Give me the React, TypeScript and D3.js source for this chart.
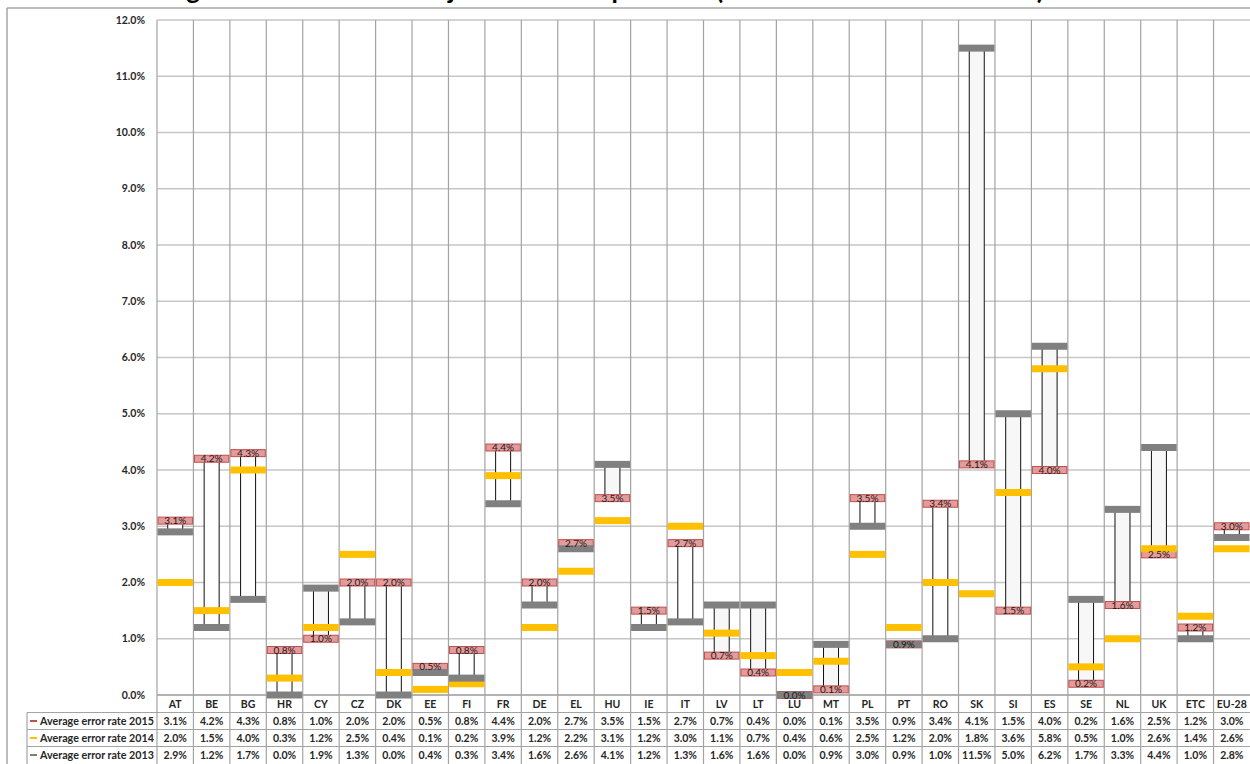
import React from "react";
import * as d3 from "d3";

const categories = ["AT","BE","BG","HR","CY","CZ","DK","EE","FI","FR","DE","EL","HU","IE","IT","LV","LT","LU","MT","PL","PT","RO","SK","SI","ES","SE","NL","UK","ETC","EU-28"];
const rate2015 = [3.1,4.2,4.3,0.8,1.0,2.0,2.0,0.5,0.8,4.4,2.0,2.7,3.5,1.5,2.7,0.7,0.4,0.0,0.1,3.5,0.9,3.4,4.1,1.5,4.0,0.2,1.6,2.5,1.2,3.0];
const rate2014 = [2.0,1.5,4.0,0.3,1.2,2.5,0.4,0.1,0.2,3.9,1.2,2.2,3.1,1.2,3.0,1.1,0.7,0.4,0.6,2.5,1.2,2.0,1.8,3.6,5.8,0.5,1.0,2.6,1.4,2.6];
const rate2013 = [2.9,1.2,1.7,0.0,1.9,1.3,0.0,0.4,0.3,3.4,1.6,2.6,4.1,1.2,1.3,1.6,1.6,0.0,0.9,3.0,0.9,1.0,11.5,5.0,6.2,1.7,3.3,4.4,1.0,2.8];
const yTicks = [0,1,2,3,4,5,6,7,8,9,10,11,12];
const seriesNames = ["Average error rate 2015","Average error rate 2014","Average error rate 2013"];
const titleText = "Average error rate of all major ERDF sample data (2013 \u2013 2015 audit results)";

const W = 1250, H = 764;
const PL = 157, PR = 1250, PT = 20, PB = 695;
const COL_PINK = "#e49b9b", COL_PINK_STROKE = "#c0504d", COL_YEL = "#ffc000", COL_GRAY = "#808080";
const FONT = "Lato, 'Open Sans', sans-serif";

export default function App() {
  const x = d3.scaleBand<string>().domain(categories).range([PL, PR]).padding(0);
  const y = d3.scaleLinear().domain([0, 12]).range([PB, PT]);
  const bw = x.bandwidth();
  const mH = 7;
  const boxW = 15;
  const rowLines = [712.5, 729.5, 746.5];
  const rowCenters = [721, 738, 755];
  const seriesData = [rate2015, rate2014, rate2013];
  const seriesColors = ["#c0504d", COL_YEL, COL_GRAY];
  const fmt = (v: number) => v.toFixed(1) + "%";

  return (
    <svg width={W} height={H} style={{ position: "absolute", left: 0, top: 0, background: "#fff" }} fontFamily={FONT}>
      <text x={116} y={-1} fontSize={26} fontWeight="bold" fill="#000" textLength={928} lengthAdjust="spacing">{titleText}</text>
      {/* outer frame */}
      <line x1={7} y1={8} x2={W} y2={8} stroke="#a6a6a6" strokeWidth={1.5} />
      <line x1={7} y1={8} x2={7} y2={H} stroke="#a6a6a6" strokeWidth={1.5} />
      {/* horizontal grid */}
      {yTicks.map((t) => (
        <line key={"h" + t} x1={PL} x2={PR} y1={y(t)} y2={y(t)} stroke={t === 0 ? "#9a9a9a" : "#c6c6c6"} strokeWidth={1.5} />
      ))}
      {/* vertical grid (through table) */}
      {categories.map((c) => (
        <line key={"v" + c} x1={(x(c) as number)} x2={(x(c) as number)} y1={PT} y2={H} stroke="#a3a3a3" strokeWidth={1.2} />
      ))}
      {/* table lines */}
      {rowLines.map((ly, i) => (
        <line key={"r" + i} x1={27} x2={PR} y1={ly} y2={ly} stroke="#a3a3a3" strokeWidth={1.2} />
      ))}
      <line x1={27} x2={27} y1={rowLines[0]} y2={H} stroke="#a3a3a3" strokeWidth={1.2} />
      {/* y tick labels */}
      {yTicks.map((t) => (
        <text key={"yt" + t} x={145} y={y(t)} dy="0.35em" textAnchor="end" fontSize={10.5} fontWeight="bold" fill="#262626">{fmt(t)}</text>
      ))}
      {/* up-down boxes between 2013 and 2015 */}
      {categories.map((c, i) => {
        const a = rate2013[i], b = rate2015[i];
        const top = y(Math.max(a, b)), bot = y(Math.min(a, b));
        const cx = (x(c) as number) + bw / 2;
        return (
          <rect key={"box" + c} x={cx - boxW / 2} y={top} width={boxW} height={Math.max(0, bot - top)}
            fill={b < a ? "#f7f7f7" : "#ffffff"} stroke="#111" strokeWidth={1} />
        );
      })}
      {/* markers */}
      {categories.map((c, i) => (
        <rect key={"p" + c} x={(x(c) as number) + 1} y={y(rate2015[i]) - mH / 2} width={bw - 2} height={mH}
          fill={COL_PINK} stroke={COL_PINK_STROKE} strokeWidth={1} />
      ))}
      {categories.map((c, i) => (
        <rect key={"y" + c} x={(x(c) as number) + 0.5} y={y(rate2014[i]) - mH / 2} width={bw - 1} height={mH} fill={COL_YEL} />
      ))}
      {categories.map((c, i) => (
        <rect key={"g" + c} x={(x(c) as number) + 0.5} y={y(rate2013[i]) - mH / 2} width={bw - 1} height={mH} fill={COL_GRAY} />
      ))}
      {/* 2015 labels */}
      {categories.map((c, i) => (
        <text key={"l" + c} x={(x(c) as number) + bw / 2} y={y(rate2015[i])} dy="0.36em" textAnchor="middle" fontSize={10} fill="#1a1a1a">{fmt(rate2015[i])}</text>
      ))}
      {/* category labels */}
      {categories.map((c) => (
        <text key={"c" + c} x={(x(c) as number) + bw / 2} y={704.5} dy="0.35em" textAnchor="middle" fontSize={10.5} fontWeight="bold" fill="#262626">{c}</text>
      ))}
      {/* table rows */}
      {seriesNames.map((n, r) => (
        <g key={"row" + r}>
          <line x1={30} x2={37} y1={rowCenters[r]} y2={rowCenters[r]} stroke={seriesColors[r]} strokeWidth={2} />
          <text x={40} y={rowCenters[r]} dy="0.35em" fontSize={10.5} fontWeight="bold" fill="#262626" textLength={114} lengthAdjust="spacingAndGlyphs">{n}</text>
          {categories.map((c, i) => (
            <text key={"tv" + c} x={(x(c) as number) + bw / 2} y={rowCenters[r]} dy="0.35em" textAnchor="middle" fontSize={10.5} fontWeight="bold" fill="#262626">{fmt(seriesData[r][i])}</text>
          ))}
        </g>
      ))}
    </svg>
  );
}
